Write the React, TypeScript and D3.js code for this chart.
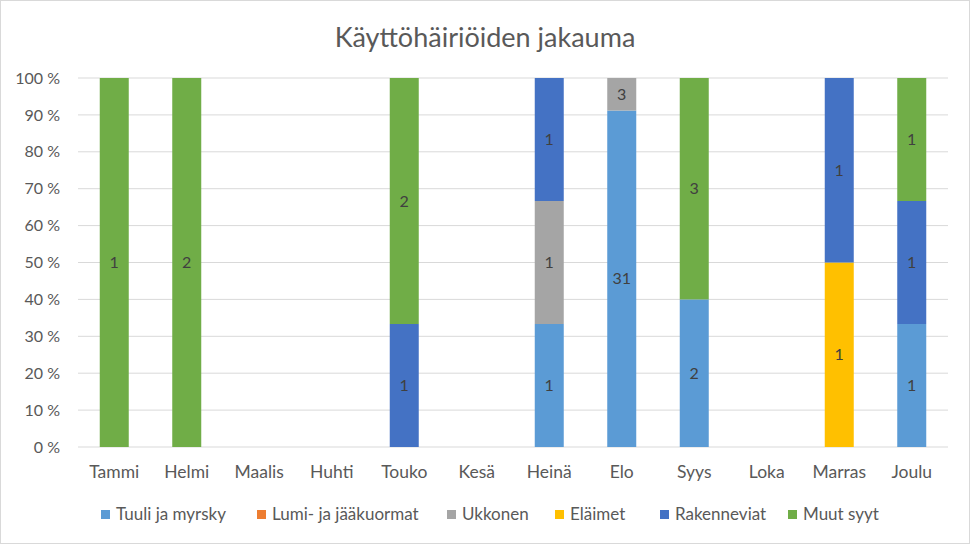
import React from "react";
import * as d3 from "d3";

const months = ["Tammi", "Helmi", "Maalis", "Huhti", "Touko", "Kesä", "Heinä", "Elo", "Syys", "Loka", "Marras", "Joulu"];
const seriesNames = ["Tuuli ja myrsky", "Lumi- ja jääkuormat", "Ukkonen", "Eläimet", "Rakenneviat", "Muut syyt"];
const seriesColors = ["#5B9BD5", "#ED7D31", "#A5A5A5", "#FFC000", "#4472C4", "#70AD47"];
const tuuli = [0, 0, 0, 0, 0, 0, 1, 31, 2, 0, 0, 1];
const lumi = [0, 0, 0, 0, 0, 0, 0, 0, 0, 0, 0, 0];
const ukkonen = [0, 0, 0, 0, 0, 0, 1, 3, 0, 0, 0, 0];
const elaimet = [0, 0, 0, 0, 0, 0, 0, 0, 0, 0, 1, 0];
const rakenneviat = [0, 0, 0, 0, 1, 0, 1, 0, 0, 0, 1, 1];
const muut = [1, 2, 0, 0, 2, 0, 0, 0, 3, 0, 0, 1];
const yTicks = [0, 0.1, 0.2, 0.3, 0.4, 0.5, 0.6, 0.7, 0.8, 0.9, 1];
const legendX = [101, 257, 447, 555, 660, 788];

const W = 972, H = 545;
const FONT = "Lato, 'Open Sans', sans-serif";

export default function App() {
  const allSeries = [tuuli, lumi, ukkonen, elaimet, rakenneviat, muut];
  const x = d3.scaleBand<string>().domain(months).range([78, 948]).padding(0);
  const y = d3.scaleLinear().domain([0, 1]).range([447, 78]);
  const bw = x.bandwidth() * 0.4;

  const bars: React.ReactNode[] = [];
  const labels: React.ReactNode[] = [];
  months.forEach((m, i) => {
    const total = d3.sum(allSeries, (s) => s[i]);
    if (total === 0) return;
    let cum = 0;
    allSeries.forEach((s, si) => {
      const v = s[i];
      if (v <= 0) return;
      const y0 = y(cum / total);
      const y1 = y((cum + v) / total);
      cum += v;
      const cx = (x(m) as number) + x.bandwidth() / 2;
      bars.push(
        <rect key={`b${i}-${si}`} x={cx - bw / 2} y={y1} width={bw} height={y0 - y1} fill={seriesColors[si]} />
      );
      labels.push(
        <text key={`l${i}-${si}`} x={cx} y={(y0 + y1) / 2} dy="0.35em" textAnchor="middle" fontSize={16} fill="#404040" fontFamily={FONT}>
          {v}
        </text>
      );
    });
  });

  return (
    <svg width={W} height={H} style={{ position: "absolute", left: 0, top: 0, background: "#fff" }}>
      <rect x={0.5} y={0.5} width={969} height={543} fill="#fff" stroke="#d9d9d9" />
      <text x={485} y={47} textAnchor="middle" fontSize={27} fill="#595959" fontFamily={FONT}>
        Käyttöhäiriöiden jakauma
      </text>
      {yTicks.map((t) => (
        <g key={t}>
          <line x1={78} x2={948} y1={y(t)} y2={y(t)} stroke="#d9d9d9" strokeWidth={1} />
          <text x={60} y={y(t)} dy="0.35em" textAnchor="end" fontSize={16} fill="#595959" fontFamily={FONT}>
            {`${Math.round(t * 100)} %`}
          </text>
        </g>
      ))}
      {bars}
      {labels}
      {months.map((m) => (
        <text key={m} x={(x(m) as number) + x.bandwidth() / 2} y={478} textAnchor="middle" fontSize={17.5} fill="#595959" fontFamily={FONT}>
          {m}
        </text>
      ))}
      {seriesNames.map((n, i) => (
        <g key={n}>
          <rect x={legendX[i]} y={510} width={9} height={9} fill={seriesColors[i]} />
          <text x={legendX[i] + 15} y={520} fontSize={17} fill="#595959" fontFamily={FONT}>
            {n}
          </text>
        </g>
      ))}
    </svg>
  );
}
